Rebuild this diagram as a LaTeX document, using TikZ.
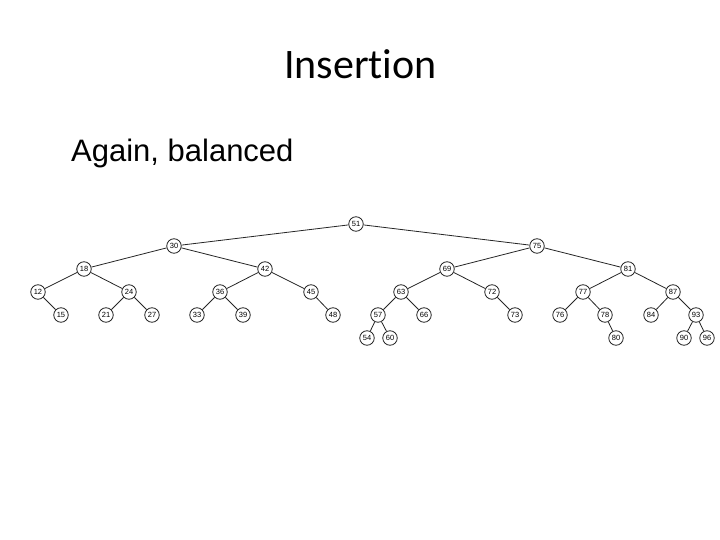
\documentclass[tikz,border=0pt]{standalone}
\usepackage{fontspec}
\setmainfont{Liberation Sans}
\newfontfamily\titlefont[Ligatures=NoCommon]{Carlito}
\begin{document}
\begin{tikzpicture}[x=1pt,y=-1pt,
  tn/.style={circle,draw=black!85,fill=white,line width=0.8pt,minimum size=14.5pt,inner sep=0pt,font=\fontsize{7.5}{8}\selectfont},
  edge/.style={draw=black!85,line width=0.8pt}]
\useasboundingbox (0,0) rectangle (720,540);
\fill[white] (0,0) rectangle (720,540);
\node[anchor=base,inner sep=0pt,font=\titlefont\fontsize{42}{48}\selectfont] (title) at (360.5,79) {Insertion};
\node[anchor=base west,inner sep=0pt,font=\fontsize{31}{36}\selectfont] (sub) at (71,162) {Again, balanced};
% nodes
\node[tn] (n51) at (356,224) {51};
\node[tn] (n30) at (174,246) {30};
\node[tn] (n75) at (537,246) {75};
\node[tn] (n18) at (84,269) {18};
\node[tn] (n42) at (265,269) {42};
\node[tn] (n69) at (447,269) {69};
\node[tn] (n81) at (628,269) {81};
\node[tn] (n12) at (38,292) {12};
\node[tn] (n24) at (129,292) {24};
\node[tn] (n36) at (220,292) {36};
\node[tn] (n45) at (311,292) {45};
\node[tn] (n63) at (401,292) {63};
\node[tn] (n72) at (492,292) {72};
\node[tn] (n77) at (583,292) {77};
\node[tn] (n87) at (673,292) {87};
\node[tn] (n15) at (61,315) {15};
\node[tn] (n21) at (106,315) {21};
\node[tn] (n27) at (152,315) {27};
\node[tn] (n33) at (197,315) {33};
\node[tn] (n39) at (243,315) {39};
\node[tn] (n48) at (333,315) {48};
\node[tn] (n57) at (378,315) {57};
\node[tn] (n66) at (424,315) {66};
\node[tn] (n73) at (515,315) {73};
\node[tn] (n76) at (560,315) {76};
\node[tn] (n78) at (605,315) {78};
\node[tn] (n84) at (651,315) {84};
\node[tn] (n93) at (696,315) {93};
\node[tn] (n54) at (367,338) {54};
\node[tn] (n60) at (390,338) {60};
\node[tn] (n80) at (616,338) {80};
\node[tn] (n90) at (684,338) {90};
\node[tn] (n96) at (707,338) {96};
% edges
\foreach \a/\b in {51/30,51/75,30/18,30/42,75/69,75/81,18/12,18/24,42/36,42/45,69/63,69/72,81/77,81/87,
  12/15,24/21,24/27,36/33,36/39,45/48,63/57,63/66,72/73,77/76,77/78,87/84,87/93,57/54,57/60,78/80,93/90,93/96}
  \draw[edge] (n\a) -- (n\b);
\end{tikzpicture}
\end{document}
